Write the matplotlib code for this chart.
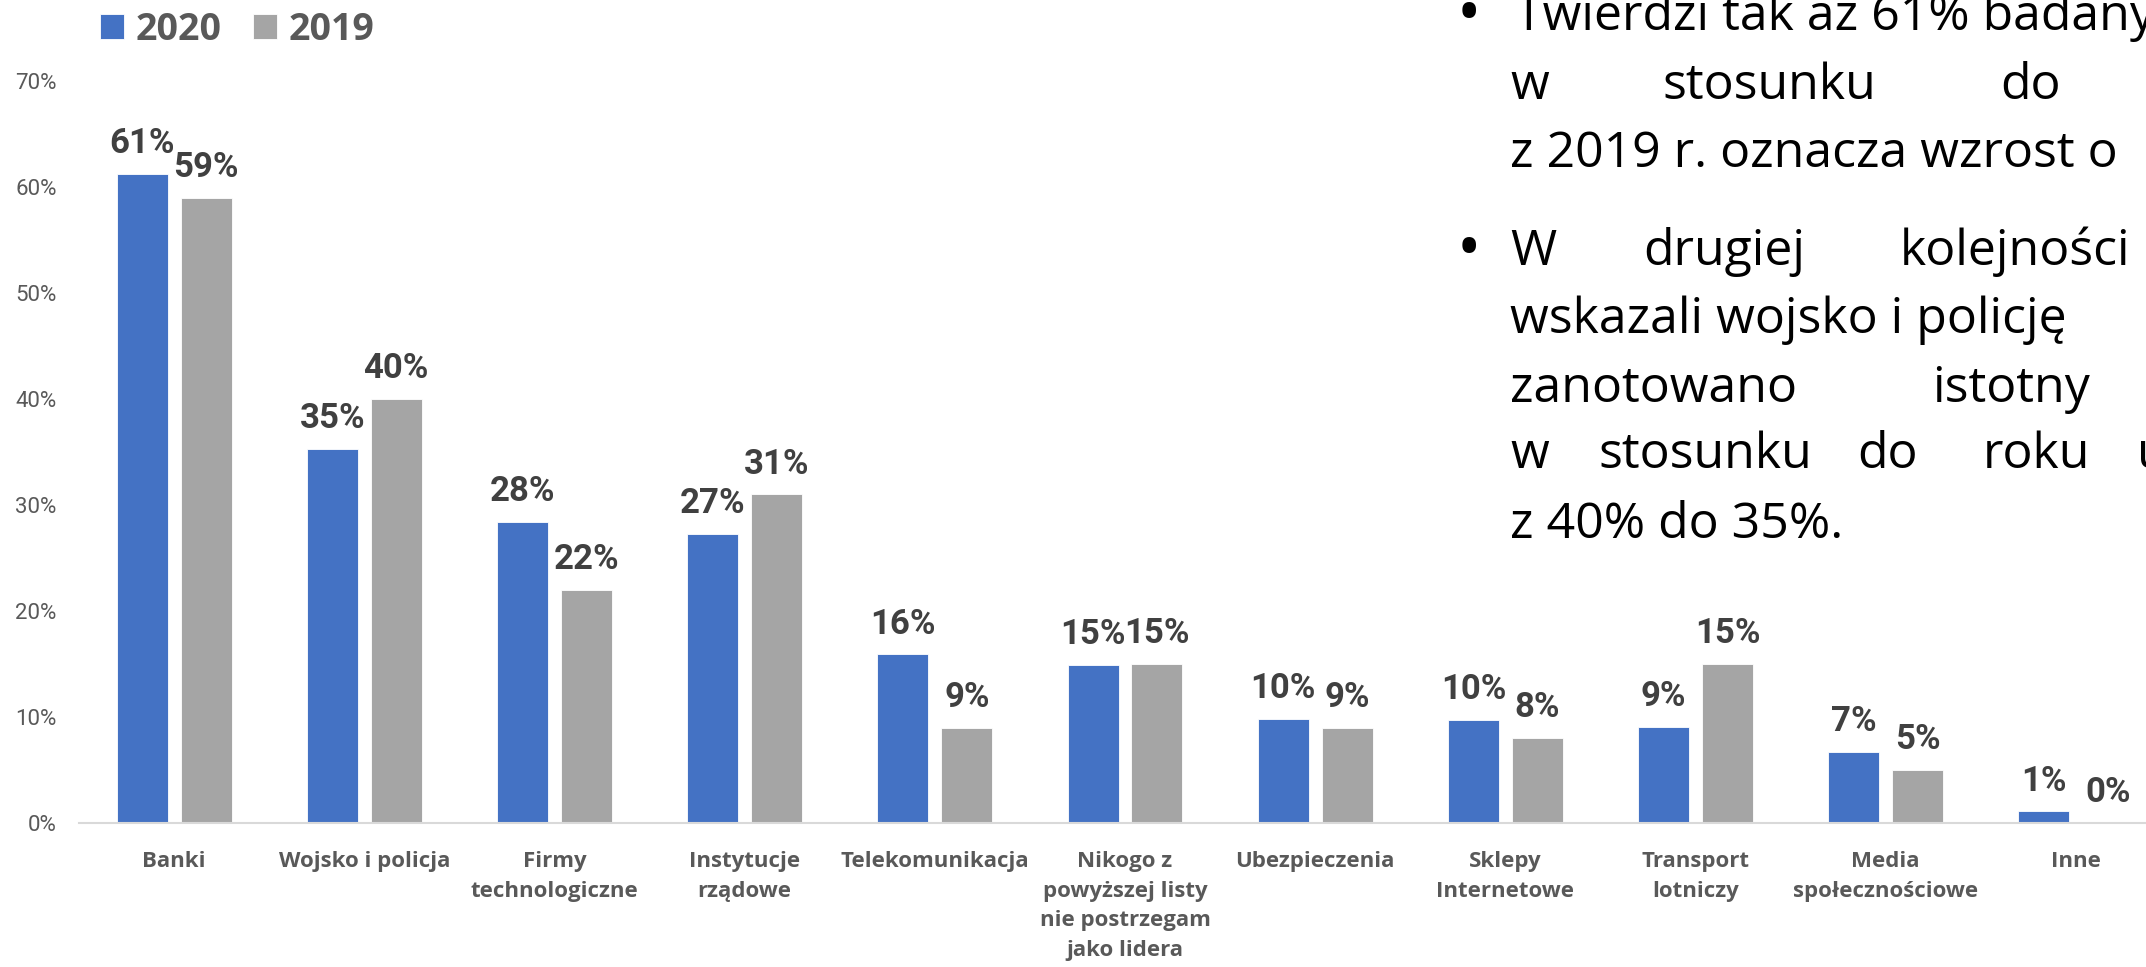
import numpy as np
import matplotlib.pyplot as plt
from matplotlib import font_manager
from matplotlib.ticker import FuncFormatter

# Dane
kategorie = ["Banki", "Wojsko i policja", "Firmy\ntechnologiczne", "Instytucje\nrządowe",
             "Telekomunikacja", "Nikogo z\npowyższej listy\nnie postrzegam\njako lidera",
             "Ubezpieczenia", "Sklepy\nInternetowe", "Transport\nlotniczy",
             "Media\nspołecznościowe", "Inne"]
wartosci_2020 = [61.2, 35.3, 28.4, 27.3, 15.9, 14.9, 9.8, 9.7, 9.1, 6.7, 1.1]
wartosci_2019 = [59, 40, 22, 31, 9, 15, 9, 8, 15, 5, 0]
lata = ["2020", "2019"]
y_ticks = [0, 10, 20, 30, 40, 50, 60, 70]

# Tekst z prawej strony (slajd), obciety przez prawa krawedz obrazka.
# Linie wyjustowane z duzymi odstepami -> kazde slowo osobno.
akapit = [
    (30, [("Twierdzi tak aż 61% badanych", 1515)]),
    (99, [("w", 1510), ("stosunku", 1662), ("do", 2000)]),
    (167, [("z 2019 r. oznacza wzrost o", 1510)]),
    (265, [("W", 1510), ("drugiej", 1643), ("kolejności", 1900)]),
    (333, [("wskazali wojsko i policję", 1510)]),
    (402, [("zanotowano", 1510), ("istotny", 1932)]),
    (468, [("w", 1510), ("stosunku", 1598), ("do", 1857), ("roku", 1983), ("u", 2137)]),
    (538, [("z 40% do 35%.", 1510)]),
]
punktory = [30, 265]

W, H = 2146, 967
NIEBIESKI = "#4472C4"
SZARY = "#A5A5A5"

installed = {f.name for f in font_manager.fontManager.ttflist}
if "Liberation Sans Narrow" in installed:
    font_tekst, size_tekst = "Liberation Sans Narrow", 42
else:
    font_tekst, size_tekst = "Open Sans", 36

fig = plt.figure(figsize=(W / 100, H / 100), dpi=100)
ax = fig.add_axes([79 / W, (H - 823) / H, 2092 / W, 742 / H])

x = np.arange(len(kategorie))
szer = 0.268
b1 = ax.bar(x - 0.168, wartosci_2020, width=szer, color=NIEBIESKI, edgecolor="white", linewidth=0.6, label=lata[0])
b2 = ax.bar(x + 0.168, wartosci_2019, width=szer, color=SZARY, edgecolor="white", linewidth=0.6, label=lata[1])

for bars, vals in [(b1, wartosci_2020), (b2, wartosci_2019)]:
    for rect, v in zip(bars, vals):
        ax.annotate(f"{round(v)}%", (rect.get_x() + rect.get_width() / 2, v),
                    xytext=(0, 15), textcoords="offset points", ha="center", va="baseline",
                    fontfamily="Roboto", fontweight="bold", fontsize=25, color="#404040")

ax.set_xlim(-0.5, len(kategorie) - 0.5)
ax.set_ylim(0, 70)
ax.set_yticks(y_ticks)
ax.yaxis.set_major_formatter(FuncFormatter(lambda v, p: f"{v:.0f}%"))
ax.set_xticks(x)
ax.set_xticklabels(kategorie, fontfamily="Open Sans", fontweight="bold", fontsize=16,
                   color="#595959", linespacing=1.55, va="top")
ax.tick_params(axis="x", length=0, pad=20)
ax.tick_params(axis="y", length=0, pad=16, labelsize=16, labelcolor="#595959")
for lab in ax.get_yticklabels():
    lab.set_fontfamily("Roboto")

for s in ["top", "right", "left"]:
    ax.spines[s].set_visible(False)
ax.spines["bottom"].set_color("#D9D9D9")
ax.spines["bottom"].set_linewidth(1.5)

fig.legend(handles=[b1, b2], labels=lata, loc="upper left", bbox_to_anchor=(100 / W, 1 - 11 / H),
           ncol=2, frameon=False, borderpad=0, borderaxespad=0,
           handlelength=0.64, handleheight=0.64, handletextpad=0.3, columnspacing=0.85,
           prop={"family": "Open Sans", "weight": "bold", "size": 27}, labelcolor="#595959")

# Akapit
for y, slowa in akapit:
    for slowo, xs in slowa:
        fig.text(xs / W, 1 - y / H, slowo, ha="left", va="baseline",
                 fontfamily=font_tekst, fontsize=size_tekst, color="black")
for y in punktory:
    fig.text(1469 / W, 1 - (y + 4) / H, "•", ha="center", va="baseline",
             fontfamily=font_tekst, fontsize=size_tekst * 1.3, color="black")

fig.savefig("out.png", dpi=100)
